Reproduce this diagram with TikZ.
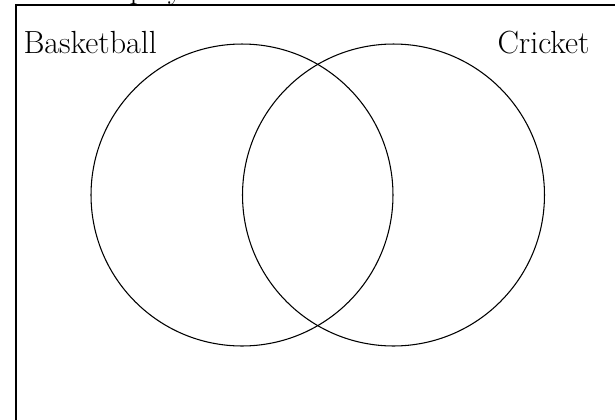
\documentclass[tikz,border=0pt]{standalone}
\begin{document}
\begin{tikzpicture}[x=0.562pt,y=-0.562pt,line width=0.6pt,
  lbl/.style={anchor=base west,inner sep=0pt,font=\fontsize{18}{22}\selectfont},
  setc/.style={draw,circle,minimum size=169.7pt,inner sep=0pt}]
\useasboundingbox (0,0) rectangle (615,419);
\begin{scope}
\clip (0,0) rectangle (615,419);
\draw (16,5) rectangle (700,500);
\node[lbl] (title) at (129,-2) {play};
\end{scope}
\node[setc] (A) at (242,195) {};
\node[setc] (B) at (393.5,195) {};
\node[lbl] (la) at (23,53) {Basketball};
\node[lbl] (lb) at (497,53) {Cricket};
\end{tikzpicture}
\end{document}
